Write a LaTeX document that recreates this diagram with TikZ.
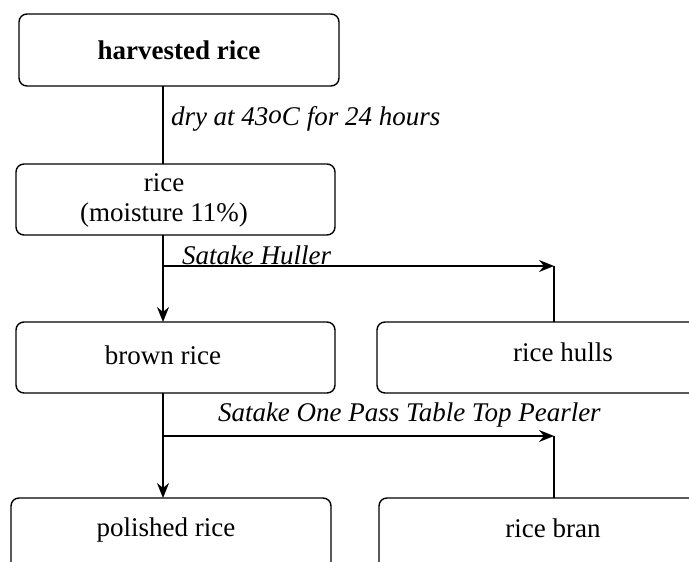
\documentclass[tikz,border=0pt]{standalone}
\usepackage{fontspec}
\setmainfont{Liberation Serif}
\usetikzlibrary{arrows.meta}
\begin{document}
\begin{tikzpicture}[x=1pt,y=-1pt,
  every node/.style={inner sep=0pt,outer sep=0pt},
  stage/.style={draw,line width=1.4pt,rounded corners=8pt},
  txt/.style={font=\fontsize{27}{30}\selectfont,align=center},
  lbl/.style={font=\fontsize{27}{30}\selectfont\itshape,anchor=west},
  flow/.style={line width=1.4pt},
  feed/.style={flow,-{Stealth[length=15pt,width=12pt,inset=5pt]}}]
\useasboundingbox (0,0) rectangle (689,562);
\clip (0,0) rectangle (689,562);

% process stages
\node[stage,minimum width=320pt,minimum height=72pt] (hr) at (179,50) {};
\node[txt,font=\fontsize{27}{30}\selectfont\bfseries] (hrt) at (179,50) {harvested rice};
\node[stage,minimum width=319pt,minimum height=71pt] (rice) at (175.5,199.5) {};
\node[txt] (ricet) at (164,200) {rice\\(moisture 11\%)};
\node[stage,minimum width=319pt,minimum height=71pt] (brown) at (175.5,357.5) {};
\node[txt] (brownt) at (163,355) {brown rice};
\node[stage,minimum width=370pt,minimum height=71pt,anchor=west] (hulls) at (377,357.5) {};
\node[txt] (hullst) at (563,352) {rice hulls};
\node[stage,minimum width=320pt,minimum height=120pt,anchor=north] (pol) at (171,498) {};
\node[txt] (polt) at (166,530) {polished rice};
\node[stage,minimum width=370pt,minimum height=120pt,anchor=north west] (bran) at (379,498) {};
\node[txt] (brant) at (553,528) {rice bran};

% branch points
\coordinate (main) at (163,0);
\coordinate (side) at (554,0);
\coordinate (j1) at (163,266);
\coordinate (j2) at (163,436);

% main flow
\draw[flow] (hr.south -| main) -- (rice.north -| main);
\draw[feed] (rice.south -| main) -- (brown.north -| main);
\draw[feed] (brown.south -| main) -- (pol.north -| main);

% by-products
\draw[feed] (j1) -- (j1 -| side);
\draw[flow] (j1 -| side) -- (hulls.north -| side);
\draw[feed] (j2) -- (j2 -| side);
\draw[flow] (j2 -| side) -- (bran.north -| side);

% operation labels
\node[lbl] (l1) at (171,119) {dry at 43\raisebox{0.15ex}{o}C for 24 hours};
\node[lbl] (l2) at (182,255) {Satake Huller};
\node[lbl] (l3) at (218,415) {Satake One Pass Table Top Pearler};
\end{tikzpicture}
\end{document}
